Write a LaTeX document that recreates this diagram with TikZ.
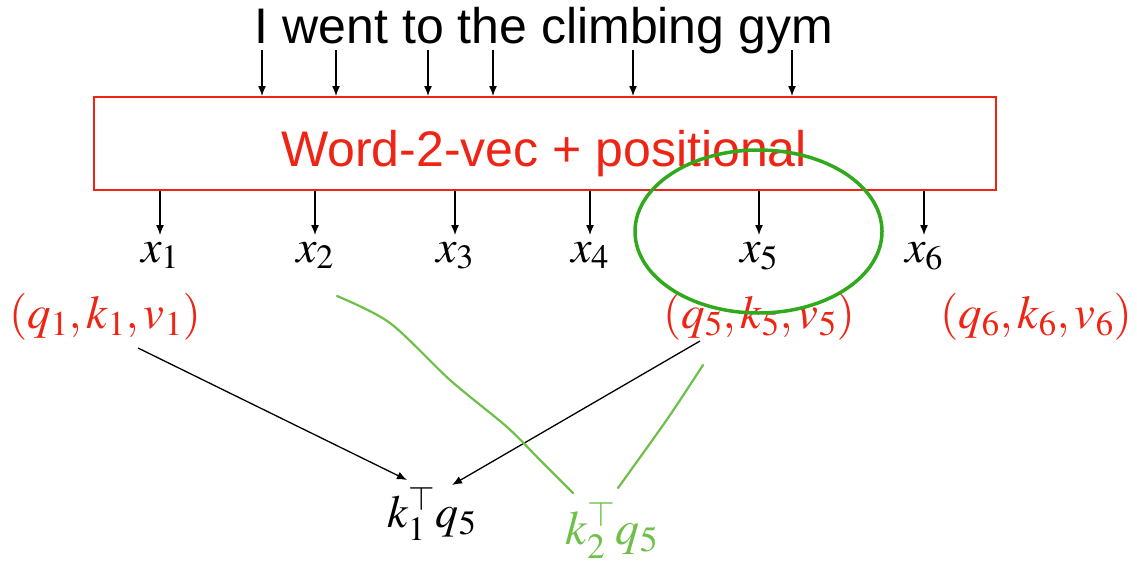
\documentclass[tikz,border=0pt]{standalone}
\usepackage{mathptmx}
\usepackage[no-math]{fontspec}
\newfontfamily\wordfont{Liberation Sans}
\usetikzlibrary{arrows.meta,calc}

\definecolor{embedred}{RGB}{238,36,20}
\definecolor{markgreen}{RGB}{48,170,28}
\definecolor{inkgreen}{RGB}{110,192,72}

\begin{document}
\begin{tikzpicture}[
    x=1pt, y=-1pt,
    sentence/.style={
        font=\wordfont\fontsize{50}{60}\selectfont,
        inner sep=0pt,
        anchor=base
    },
    embed/.style={
        draw=embedred,
        line width=2pt,
        text=embedred,
        font=\wordfont\fontsize{50}{60}\selectfont,
        minimum width=902pt,
        minimum height=93pt,
        anchor=north west
    },
    token/.style={
        font=\fontsize{46}{55}\selectfont,
        inner sep=0pt,
        anchor=base
    },
    triple/.style={
        text=embedred,
        font=\fontsize{47}{56}\selectfont,
        inner sep=0pt,
        anchor=base
    },
    arrow/.style={-{Latex[length=10pt,width=8pt]}, line width=1.3pt, draw=black},
    circled/.style={draw=markgreen, line width=3.5pt},
    handline/.style={draw=inkgreen, line width=2.2pt, line cap=round}
]
\useasboundingbox (0,0) rectangle (1137,565);

% input sentence and embedding layer
\node[sentence] (sent) at (544,43) {I went to the climbing gym};
\node[embed] (embed) at (93,96) {};
\node[sentence, text=embedred] (embedtxt) at (544,166) {Word-2-vec + positional};

% words into the embedding
\foreach \wx [count=\i] in {262,336,428,493,633,792} {
    \coordinate (w\i) at (\wx,50);
    \draw[arrow] (w\i) -- (w\i |- embed.north);
}

% embedded tokens
\foreach \tx [count=\i] in {160,315,455,590,759,924} {
    \node[token] (x\i) at (\tx,262) {$x_{\i}$};
    \draw[arrow] (x\i |- embed.south) -- ($(x\i.base)+(0,-27)$);
}

% query / key / value triples
\node[triple] (t1) at (105,328) {$(q_1,k_1,v_1)$};
\node[triple] (t5) at (759,328) {$(q_5,k_5,v_5)$};
\node[triple] (t6) at (1036,328) {$(q_6,k_6,v_6)$};

% score
\node[token] (score) at (432,527) {$k_1^{\top}q_5$};

\draw[arrow] ($(t1.base)+(33,20)$) -- ($(score.base)+(-25,-47)$);
\draw[arrow] ($(t5.base)+(-59,13)$) -- ($(score.base)+(20,-42)$);

% hand annotations
\draw[handline] plot[smooth] coordinates {(337,296) (390,323) (450,380) (507,427) (540,460) (573,493)};
\draw[handline] plot[smooth] coordinates {(703,365) (668,418) (618,488)};
\node[token, text=inkgreen, font=\fontsize{48}{56}\selectfont] (note) at (612,544) {$k_2^{\top}q_5$};
\draw[circled] (758.5,231.5) ellipse [x radius=123.5pt, y radius=81.5pt];

\end{tikzpicture}
\end{document}
